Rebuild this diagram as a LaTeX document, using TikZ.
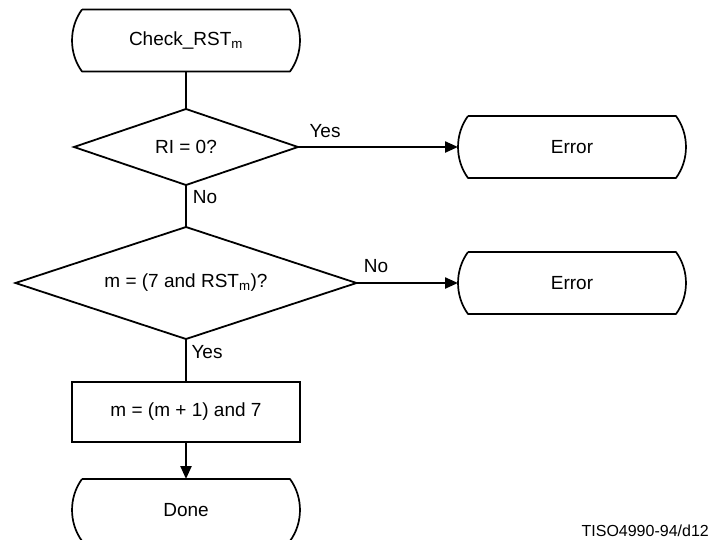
\documentclass[tikz,border=0pt]{standalone}
\usepackage{fontspec}
\setmainfont{Liberation Sans}
\usetikzlibrary{shapes.geometric,arrows.meta}

\tikzset{
  lbl/.style={font=\fontsize{19}{22}\selectfont, inner sep=0pt},
  terminal/.style={lbl, minimum width=228pt, minimum height=62pt, outer sep=0pt},
  decision/.style={lbl, diamond, draw, line width=1.8pt, outer sep=0pt},
  procbox/.style={lbl, rectangle, draw, line width=1.8pt, minimum width=228pt,
    minimum height=60pt, outer sep=0pt},
  outline/.style={draw, line width=1.7pt, line join=round},
  conn/.style={line width=2.3pt},
  flow/.style={conn, -{Triangle[length=13pt,width=11pt]}},
}

\begin{document}
\begin{tikzpicture}[x=1pt, y=-1pt]
  \useasboundingbox (0,0) rectangle (710,539);

  % terminals (outlines drawn below)
  \node[terminal] (start) at (186,40.5) {Check\_RST\textsubscript{m}};
  \node[terminal] (err1)  at (572,147)  {Error};
  \node[terminal] (err2)  at (572,283)  {Error};
  \node[terminal] (done)  at (186,510)  {Done};

  % decisions and process step
  \node[decision, aspect=2.95, minimum width=224pt, minimum height=76pt]  (d1)
       at (186,147) {RI = 0?};
  \node[decision, aspect=3.04, minimum width=341pt, minimum height=112pt] (d2)
       at (186,283) {m = (7 and RST\textsubscript{m})?};
  \node[procbox] (proc) at (186,412) {m = (m + 1) and 7};

  % rounded-side terminal outlines
  \foreach \n in {start,err1,err2,done}{
    \draw[outline] ([xshift=10pt]\n.north west) -- ([xshift=-10pt]\n.north east)
      .. controls +(13.3,18.1) and +(13.3,-18.1) .. ([xshift=-10pt]\n.south east)
      -- ([xshift=10pt]\n.south west)
      .. controls +(-13.3,-18.1) and +(-13.3,18.1) .. ([xshift=10pt]\n.north west);
  }

  % connectors
  \draw[conn] (start.south) -- (d1.north);
  \draw[flow] (d1.east) -- (err1.west);
  \draw[conn] (d1.south) -- (d2.north);
  \draw[flow] (d2.east) -- (err2.west);
  \draw[conn] (d2.south) -- (proc.north);
  \draw[flow] (proc.south) -- (done.north);

  % branch labels
  \node[lbl] (yes1) at (325,131) {Yes};
  \node[lbl] (no1)  at (205,197) {No};
  \node[lbl] (no2)  at (376,266) {No};
  \node[lbl] (yes2) at (207,352) {Yes};

  % figure reference
  \node[font=\fontsize{16}{19}\selectfont, inner sep=0pt, anchor=east] (ref) at (709,531)
       {TISO4990-94/d12};
\end{tikzpicture}
\end{document}
